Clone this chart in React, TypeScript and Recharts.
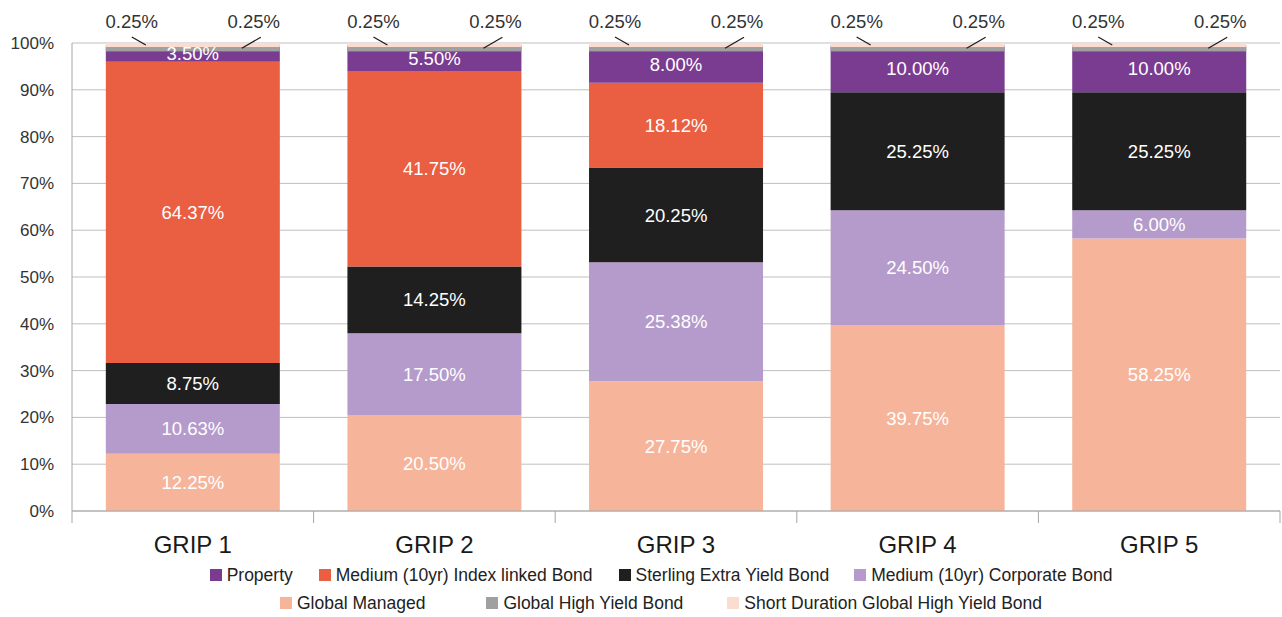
import { BarChart, Bar, XAxis, YAxis, CartesianGrid, Legend, LabelList } from "recharts";

const categories = ["GRIP 1", "GRIP 2", "GRIP 3", "GRIP 4", "GRIP 5"];
const globalManaged = [12.25, 20.5, 27.75, 39.75, 58.25];
const corporateBond = [10.63, 17.5, 25.38, 24.5, 6.0];
const sterlingExtra = [8.75, 14.25, 20.25, 25.25, 25.25];
const indexLinked = [64.37, 41.75, 18.12, 0, 0];
const property = [3.5, 5.5, 8.0, 10.0, 10.0];
const globalHighYield = [0.25, 0.25, 0.25, 0.25, 0.25];
const shortDuration = [0.25, 0.25, 0.25, 0.25, 0.25];
const yTicks = [0, 10, 20, 30, 40, 50, 60, 70, 80, 90, 100];

const data = categories.map((name, i) => ({
  name,
  globalManaged: globalManaged[i],
  corporateBond: corporateBond[i],
  sterlingExtra: sterlingExtra[i],
  indexLinked: indexLinked[i],
  property: property[i],
  globalHighYield: globalHighYield[i],
  shortDuration: shortDuration[i],
}));

const COLORS = {
  property: "#7A3C91",
  indexLinked: "#EA5E42",
  sterlingExtra: "#1F1F1F",
  corporateBond: "#B59BCB",
  globalManaged: "#F6B59B",
  globalHighYield: "#A0A0A0",
  shortDuration: "#FCDCD1",
};

const legendRows = [
  [
    { key: "property", name: "Property" },
    { key: "indexLinked", name: "Medium (10yr) Index linked Bond" },
    { key: "sterlingExtra", name: "Sterling Extra Yield Bond" },
    { key: "corporateBond", name: "Medium (10yr) Corporate Bond" },
  ],
  [
    { key: "globalManaged", name: "Global Managed" },
    { key: "globalHighYield", name: "Global High Yield Bond" },
    { key: "shortDuration", name: "Short Duration Global High Yield Bond" },
  ],
];
const rowGaps = [[0, 26, 26, 25], [0, 61, 44]];

const W = 1282;
const H = 617;
const PLOT_LEFT = 72;
const PLOT_RIGHT = 1280;
const band = (PLOT_RIGHT - PLOT_LEFT) / categories.length;
const THIN = 4.2;
const AXIS = "#A6A6A6";
const FONT = "'Liberation Sans', Arial, sans-serif";

const fmt = (v: number) => `${v.toFixed(2)}%`;

const CategoryTick = ({ x, y, payload, index }: any) => (
  <g>
    <line x1={x - band / 2} x2={x - band / 2} y1={y} y2={y + 12} stroke={AXIS} />
    {index === categories.length - 1 && (
      <line x1={x + band / 2} x2={x + band / 2} y1={y} y2={y + 12} stroke={AXIS} />
    )}
    <text x={x} y={y + 42} textAnchor="middle" fontSize={24} fill="#1a1a1a">
      {payload.value}
    </text>
  </g>
);

// tiny top slices get a visible minimum thickness
const shortShape = (p: any) => (
  <rect x={p.x} y={p.y} width={p.width} height={THIN} fill={p.fill} />
);
const highYieldShape = (p: any) => (
  <rect x={p.x} y={p.y - p.height + THIN} width={p.width} height={THIN} fill={p.fill} />
);

const ShortLabel = (props: any) => {
  const { x, y, value } = props;
  return (
    <g>
      <line x1={x + 26} y1={y - 6} x2={x + 40} y2={y + 2} stroke="#1a1a1a" strokeWidth={1.2} />
      <text x={x + 26} y={y - 15} textAnchor="middle" fontSize={18.5} fill="#333">
        {fmt(value)}
      </text>
    </g>
  );
};

const HighYieldLabel = (props: any) => {
  const { x, y, value } = props;
  return (
    <g>
      <line x1={x + 155} y1={y - 7} x2={x + 136} y2={y + 4} stroke="#1a1a1a" strokeWidth={1.2} />
      <text x={x + 148} y={y - 16} textAnchor="middle" fontSize={18.5} fill="#333">
        {fmt(value)}
      </text>
    </g>
  );
};

const CustomLegend = () => (
  <div style={{ width: W, paddingLeft: 40, boxSizing: "border-box", fontFamily: FONT }}>
    {legendRows.map((row, r) => (
      <div
        key={r}
        style={{ display: "flex", justifyContent: "center", alignItems: "center", height: 28 }}
      >
        {row.map((item, i) => (
          <div
            key={item.key}
            style={{ display: "flex", alignItems: "center", marginLeft: rowGaps[r][i] }}
          >
            <span
              style={{
                width: 12,
                height: 12,
                background: (COLORS as any)[item.key],
                marginRight: 5,
                display: "inline-block",
              }}
            />
            <span style={{ fontSize: 17.5, color: "#222", whiteSpace: "nowrap" }}>{item.name}</span>
          </div>
        ))}
      </div>
    ))}
  </div>
);

const inBar = (key: string) => (
  <LabelList
    dataKey={key}
    position="center"
    fill="#fff"
    fontSize={18.5}
    formatter={(v: any) => (v ? fmt(Number(v)) : "")}
  />
);

export default function App() {
  return (
    <div style={{ position: "absolute", left: 0, top: 0, width: W, height: H, fontFamily: FONT }}>
      <BarChart
        width={W}
        height={H}
        data={data}
        margin={{ top: 43, right: W - PLOT_RIGHT, bottom: 0, left: 0 }}
        barCategoryGap="14%"
      >
        <CartesianGrid horizontal vertical={false} stroke="#BFBFBF" />
        <XAxis
          dataKey="name"
          height={50}
          axisLine={{ stroke: AXIS }}
          tickLine={false}
          tickSize={0}
          tickMargin={0}
          tick={<CategoryTick />}
          interval={0}
        />
        <YAxis
          width={PLOT_LEFT}
          domain={[0, 100]}
          ticks={yTicks}
          tickFormatter={(v) => `${v}%`}
          axisLine={{ stroke: AXIS }}
          tickLine={false}
          tickSize={0}
          tickMargin={18}
          tick={{ fill: "#333", fontSize: 17 }}
          interval={0}
        />
        <Legend verticalAlign="bottom" content={<CustomLegend />} wrapperStyle={{ left: 0, width: W }} />
        <Bar dataKey="globalManaged" name="Global Managed" stackId="a" fill={COLORS.globalManaged} isAnimationActive={false}>
          {inBar("globalManaged")}
        </Bar>
        <Bar dataKey="corporateBond" name="Medium (10yr) Corporate Bond" stackId="a" fill={COLORS.corporateBond} isAnimationActive={false}>
          {inBar("corporateBond")}
        </Bar>
        <Bar dataKey="sterlingExtra" name="Sterling Extra Yield Bond" stackId="a" fill={COLORS.sterlingExtra} isAnimationActive={false}>
          {inBar("sterlingExtra")}
        </Bar>
        <Bar dataKey="indexLinked" name="Medium (10yr) Index linked Bond" stackId="a" fill={COLORS.indexLinked} isAnimationActive={false}>
          {inBar("indexLinked")}
        </Bar>
        <Bar dataKey="property" name="Property" stackId="a" fill={COLORS.property} isAnimationActive={false}>
          {inBar("property")}
        </Bar>
        <Bar
          dataKey="globalHighYield"
          name="Global High Yield Bond"
          stackId="a"
          fill={COLORS.globalHighYield}
          shape={highYieldShape}
          isAnimationActive={false}
        >
          <LabelList dataKey="globalHighYield" content={<HighYieldLabel />} />
        </Bar>
        <Bar
          dataKey="shortDuration"
          name="Short Duration Global High Yield Bond"
          stackId="a"
          fill={COLORS.shortDuration}
          shape={shortShape}
          isAnimationActive={false}
        >
          <LabelList dataKey="shortDuration" content={<ShortLabel />} />
        </Bar>
      </BarChart>
    </div>
  );
}
